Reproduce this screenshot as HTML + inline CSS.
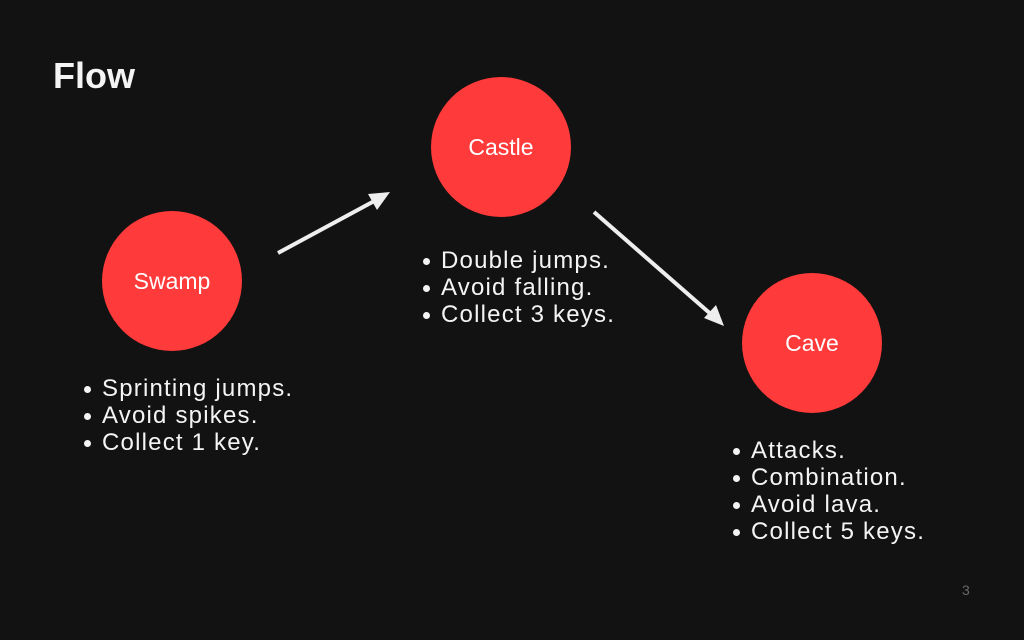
<!DOCTYPE html>
<html><head><style>
body{margin:0;width:1024px;height:640px;background:#121212;overflow:hidden;position:relative;font-family:"Liberation Sans",sans-serif;color:#f4f4f4}
.t{position:absolute;white-space:nowrap}
.c{position:absolute;width:140px;height:140px;border-radius:50%;background:#ff3a3a;display:flex;align-items:center;justify-content:center;font-size:23px;color:#fff}
.l{position:absolute;font-size:24px;letter-spacing:1.2px;line-height:27px;white-space:nowrap}
.l div{position:relative}
.l div:before{content:"";position:absolute;left:-18px;top:11px;width:7px;height:7px;border-radius:50%;background:#f4f4f4}
</style></head><body>
<div class="t" style="left:53px;top:55px;font-size:36px;font-weight:bold">Flow</div>
<div class="c" style="left:102px;top:211px">Swamp</div>
<div class="c" style="left:431px;top:77px">Castle</div>
<div class="c" style="left:742px;top:273px">Cave</div>
<svg width="1024" height="640" style="position:absolute;left:0;top:0">
<g stroke="#eee" stroke-width="4" fill="#eee">
<line x1="278" y1="253" x2="378" y2="199"/>
<polygon points="390,192 368,194 377,210" stroke="none"/>
<line x1="594" y1="212" x2="713" y2="316"/>
<polygon points="724,326 704,318 716,305" stroke="none"/>
</g></svg>
<div class="l" style="left:102px;top:375px"><div>Sprinting jumps.</div><div>Avoid spikes.</div><div>Collect 1 key.</div></div>
<div class="l" style="left:441px;top:247px"><div>Double jumps.</div><div>Avoid falling.</div><div>Collect 3 keys.</div></div>
<div class="l" style="left:751px;top:437px"><div>Attacks.</div><div>Combination.</div><div>Avoid lava.</div><div>Collect 5 keys.</div></div>
<div class="t" style="left:962px;top:582px;font-size:14px;color:#666">3</div>
</body></html>
